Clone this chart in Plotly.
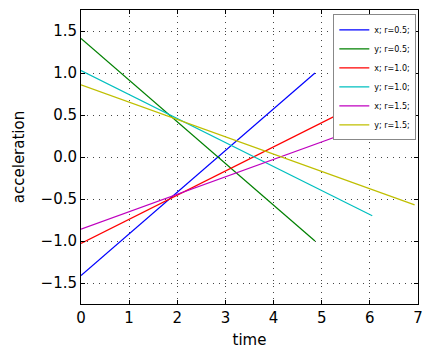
import plotly.graph_objects as go

names = ["x; r=0.5;", "y; r=0.5;", "x; r=1.0;", "y; r=1.0;", "x; r=1.5;", "y; r=1.5;"]
colors = ["#0000ff", "#008000", "#ff0000", "#00bfbf", "#bf00bf", "#bfbf00"]
t_vals = [[0.0, 4.86], [0.0, 4.86], [0.0, 6.05], [0.0, 6.05], [0.0, 6.93], [0.0, 6.93]]
a_vals = [[-1.41, 1.0], [1.41, -1.0], [-1.03, 0.71], [1.03, -0.70], [-0.86, 0.58], [0.86, -0.57]]

fig = go.Figure()
for n, c, t, a in zip(names, colors, t_vals, a_vals):
    fig.add_trace(go.Scatter(x=t, y=a, mode="lines", name=n, line=dict(color=c, width=1.2)))

axis_common = dict(
    showline=True, linecolor="black", linewidth=1, mirror="allticks",
    ticks="inside", ticklen=4, tickcolor="black",
    showgrid=True, gridcolor="#444444", griddash="1px,5px", gridwidth=1,
    zeroline=False, tickfont=dict(size=15, color="black"),
)
fig.update_xaxes(range=[0, 7], dtick=1, title=dict(text="time", font=dict(size=15, color="black"), standoff=8), **axis_common)
fig.update_yaxes(range=[-1.75, 1.75], dtick=0.5, tickformat=".1f",
                 title=dict(text="acceleration", font=dict(size=15, color="black"), standoff=12), **axis_common)

fig.update_layout(
    width=433, height=362,
    margin=dict(l=73, r=23, t=2, b=66),
    paper_bgcolor="white", plot_bgcolor="white",
    font=dict(family="DejaVu Sans", color="black"),
    legend=dict(x=0.995, y=0.985, xanchor="right", yanchor="top",
                bgcolor="white", bordercolor="#888888", borderwidth=1,
                font=dict(size=8), itemwidth=30, tracegroupgap=0),
    showlegend=True,
)
fig.write_html("out.html")
